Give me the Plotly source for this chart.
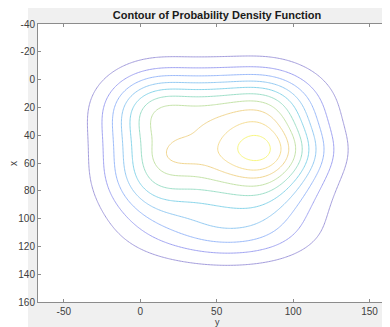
import numpy as np
import plotly.graph_objects as go

# ---- density model, parameters ----
# main body: product of two 1-D Gaussian mixtures G(v) * H(w)
g_amp = [7.79, 1.81, 1.03, 7.19]
g_mu = [14.30, 47.72, 72.45, 81.22]
g_sd = [24.62, 15.44, 18.25, 25.26]
h_amp = [0.71, 0.78]
h_mu = [20.84, 65.59]
h_sd = [19.62, 24.96]
# extra 2-D bumps: main peak, left lobe, lower skirt
bump_amp = [2.90, 0.80, 2.39]
bump_v = [80.94, 26.57, 56.16]
bump_w = [50.77, 53.79, 110.79]
bump_sv = [27.65, 11.49, 36.80]
bump_sw = [13.85, 7.00, 15.77]

levels = [1, 2, 3, 4, 5, 6, 7, 8, 9, 10]
level_colors = ['#a39cdc', '#a0a3f2', '#9bbafa', '#95cbf3', '#88d5ea',
                '#9ddfc8', '#c4e3a8', '#f1d690', '#f6dd92', '#f8f780']

x_ticks = [-50, 0, 50, 100, 150]
x_tick_labels = ['-50', '0', '50', '100', '150']
y_ticks = [-40, -20, 0, 20, 40, 60, 80, 100, 120, 140, 160]
y_tick_labels = ['-40', '-20', '0', '20', '40', '60', '80', '100', '120', '140', '160']

v = np.arange(-70, 171, 1.0)
w = np.arange(-45, 166, 1.0)
V, W = np.meshgrid(v, w)


def mix1d(t, amp, mu, sd):
    out = np.zeros_like(t)
    for a, m, s in zip(amp, mu, sd):
        out += a * np.exp(-0.5 * ((t - m) / s) ** 2)
    return out


Z = mix1d(V, g_amp, g_mu, g_sd) * mix1d(W, h_amp, h_mu, h_sd)
for a, cv, cw, sv, sw in zip(bump_amp, bump_v, bump_w, bump_sv, bump_sw):
    Z += a * np.exp(-0.5 * ((V - cv) / sv) ** 2 - 0.5 * ((W - cw) / sw) ** 2)

fig = go.Figure()
for lev, col in zip(levels, level_colors):
    fig.add_trace(go.Contour(
        x=v, y=w, z=Z,
        contours=dict(start=lev, end=lev, size=1, coloring='none'),
        line=dict(color=col, width=1.0, smoothing=1),
        showscale=False, hoverinfo='skip', autocontour=False,
    ))

# the page body has an 8px margin: the figure is sized to fill the rest
W_FIG, H_FIG, L, T, B = 382, 319, 30, 16, 25
PW, PH = W_FIG - L, H_FIG - T - B

fig.update_layout(
    width=W_FIG, height=H_FIG,
    margin=dict(l=L, r=0, t=T, b=B, pad=0),
    paper_bgcolor='#f0f0f0', plot_bgcolor='white',
    font=dict(family='Liberation Sans, Arial, sans-serif', size=10, color='#404040'),
    showlegend=False,
    title=dict(text='<b>Contour of Probability Density Function</b>',
               x=209 / W_FIG, xanchor='center', xref='container',
               y=1 - 7 / H_FIG, yanchor='middle', yref='container',
               font=dict(family='Liberation Sans, Arial, sans-serif', size=11, color='#1a1a1a')),
    shapes=[dict(type='rect', xref='paper', yref='paper', layer='below',
                 x0=(0 - L) / PW, x1=(20 - L) / PW, y0=-0.2, y1=1.2,
                 fillcolor='white', line=dict(width=0))],
)
axis_col = '#8c8c8c'
fig.update_xaxes(range=[-66.9, 163.4], tickvals=x_ticks, ticktext=x_tick_labels,
                 ticks='inside', ticklen=3, tickcolor=axis_col, automargin=False,
                 showgrid=False, zeroline=False, showline=True, linecolor=axis_col,
                 linewidth=1, mirror='ticks', tickfont=dict(size=10, color='#404040'))
fig.update_yaxes(range=[160, -40], tickvals=y_ticks, ticktext=y_tick_labels,
                 ticks='inside', ticklen=3, tickcolor=axis_col, automargin=False,
                 showgrid=False, zeroline=False, showline=True, linecolor=axis_col,
                 linewidth=1, mirror=False, tickfont=dict(size=10, color='#404040'))
fig.add_annotation(text='y', xref='paper', yref='paper',
                   x=(209 - L) / PW, y=1 - (313.5 - T) / PH,
                   xanchor='center', yanchor='middle', showarrow=False,
                   font=dict(size=9, color='#404040'))
fig.add_annotation(text='x', xref='paper', yref='paper',
                   x=(5 - L) / PW, y=1 - (155 - T) / PH,
                   xanchor='center', yanchor='middle', showarrow=False, textangle=-90,
                   font=dict(size=10, color='#404040'))
fig.write_html('out.html')
